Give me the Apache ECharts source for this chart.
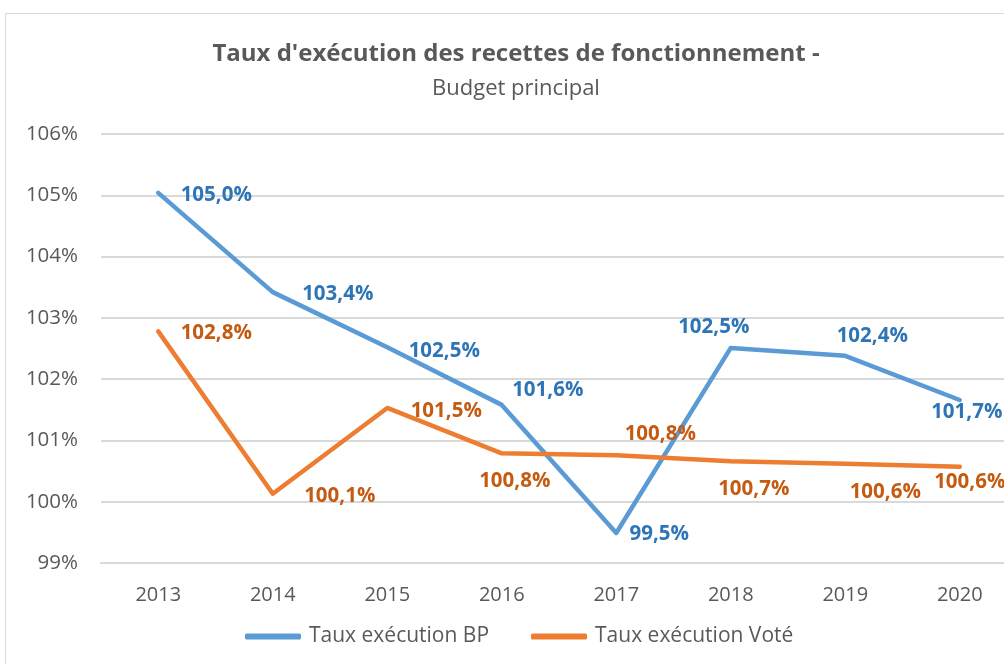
<!DOCTYPE html>
<html><head><meta charset="utf-8">
<script src="https://cdn.jsdelivr.net/npm/echarts@6/dist/echarts.min.js"></script>
<style>html,body{margin:0;padding:0;background:#fff;overflow:hidden;width:1004px;height:664px}#c{width:1020px;height:664px}</style>
</head><body><div id="c"></div>
<script>
const years = ['2013','2014','2015','2016','2017','2018','2019','2020'];
const tauxBP = [105.04, 103.42, 102.52, 101.58, 99.49, 102.51, 102.38, 101.66];
const tauxVote = [102.78, 100.13, 101.53, 100.79, 100.76, 100.66, 100.62, 100.57];
const seriesNames = ['Taux exécution BP', 'Taux exécution Voté'];
// label offsets (style only)
const offBP = [[58,2],[65,2],[57,4],[46,-15],[43,1],[-17,-21],[27,-20],[7,12]];
const offVote = [[58,2],[67,2],[59,3],[13,28],[44,-21],[23,28],[40,28],[10,15]];

const FONT = 'Open Sans';
const chart = echarts.init(document.getElementById('c'), null, {renderer:'canvas'});
const fmt = v => v.toFixed(1).replace('.', ',') + '%';
function mk(vals, offs, color, lblColor, name){
  return {
    name, type:'line', data: vals.map((v,i)=>({value:v, label:{offset:offs[i]}})),
    symbol:'circle', symbolSize:1, showSymbol:true,
    itemStyle:{color:'rgba(0,0,0,0)'},
    lineStyle:{color, width:4.5, cap:'round', join:'round'},
    emphasis:{disabled:true},
    label:{show:true, position:'inside', align:'center', verticalAlign:'middle',
      formatter:p=>fmt(p.value), color:lblColor, fontWeight:'bold', fontSize:20.5, fontFamily:FONT},
    animation:false
  };
}
chart.setOption({
  animation:false,
  textStyle:{fontFamily:FONT},
  graphic:[{type:'rect', shape:{x:5.5,y:13.5,width:1100,height:700}, style:{fill:'none', stroke:'#D9D9D9', lineWidth:1}, silent:true, z:-1}],
  title:{text:"Taux d'exécution des recettes de fonctionnement -", subtext:'Budget principal',
    left:511, textAlign:'center', top:37, itemGap:12,
    textStyle:{fontFamily:FONT, fontWeight:'bold', fontSize:24, color:'#595959'},
    subtextStyle:{fontFamily:FONT, fontSize:22, color:'#595959'}},
  legend:{top:621, left:240, itemWidth:56, itemHeight:6, itemGap:42, icon:'roundRect',
    textStyle:{fontFamily:FONT, fontSize:21, color:'#595959', padding:[0,0,0,3]},
    data:[{name:seriesNames[0], itemStyle:{color:'#5B9BD5'}},{name:seriesNames[1], itemStyle:{color:'#ED7D31'}}]},
  grid:{left:101, width:916, top:134, height:429, containLabel:false},
  xAxis:{type:'category', data:years, boundaryGap:true,
    axisLine:{show:true, lineStyle:{color:'#D9D9D9', width:2}}, axisTick:{show:false},
    axisLabel:{color:'#595959', fontSize:20, fontFamily:FONT, margin:22}},
  yAxis:{type:'value', min:99, max:106, interval:1,
    axisLine:{show:false}, axisTick:{show:false},
    splitLine:{lineStyle:{color:'#D9D9D9', width:2}},
    axisLabel:{formatter:'{value}%', color:'#595959', fontSize:20.5, fontFamily:FONT, margin:23}},
  series:[mk(tauxBP, offBP, '#5B9BD5', '#2E75B6', seriesNames[0]), mk(tauxVote, offVote, '#ED7D31', '#C55A11', seriesNames[1])]
});
</script></body></html>
